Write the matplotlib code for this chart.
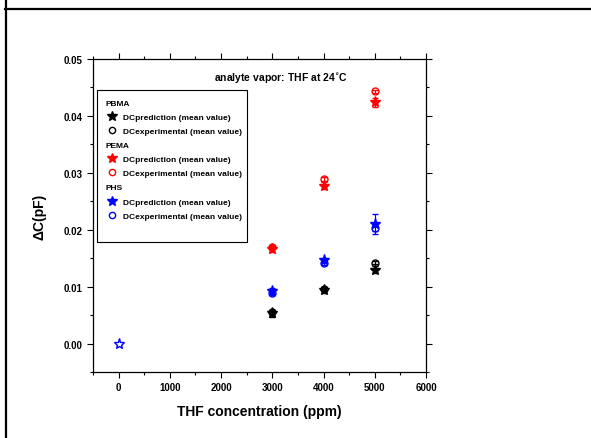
import matplotlib
matplotlib.use('Agg')
import matplotlib.pyplot as plt
from matplotlib.lines import Line2D
from matplotlib.patches import Rectangle
from matplotlib.ticker import MultipleLocator, FormatStrFormatter

plt.rcParams['font.family'] = ['Liberation Sans Narrow', 'Liberation Sans', 'DejaVu Sans']
plt.rcParams['font.weight'] = 'bold'

conc = [0, 3000, 4000, 5000]

# PBMA
pbma_pred = [0.0, 0.0053, 0.0094, 0.0130]
pbma_pred_err = [0.0, 0.0006, 0.0005, 0.0006]
pbma_exp = [0.0, 0.0056, 0.0095, 0.0142]
pbma_exp_err = [0.0, 0.0003, 0.0003, 0.0003]

# PEMA
pema_pred = [0.0, 0.0166, 0.0277, 0.0424]
pema_pred_err = [0.0, 0.0005, 0.0006, 0.0008]
pema_exp = [0.0, 0.0170, 0.0289, 0.0443]
pema_exp_err = [0.0, 0.0003, 0.0003, 0.0003]

# PHS
phs_pred = [0.0, 0.0092, 0.0146, 0.0210]
phs_pred_err = [0.0, 0.0006, 0.0004, 0.0017]
phs_exp = [0.0, 0.0089, 0.0141, 0.0203]
phs_exp_err = [0.0, 0.0003, 0.0003, 0.0005]

series = [
    ('PBMA', 'black', pbma_pred, pbma_pred_err, pbma_exp, pbma_exp_err),
    ('PEMA', 'red', pema_pred, pema_pred_err, pema_exp, pema_exp_err),
    ('PHS', 'blue', phs_pred, phs_pred_err, phs_exp, phs_exp_err),
]

fig = plt.figure(figsize=(5.91, 4.39), dpi=100)
ax = fig.add_axes([93/591, 1-373/439, (426-93)/591, (373-60)/439])

for name, col, pred, perr, exp, eerr in series:
    if name == 'PHS':
        # zero point drawn as a hollow star
        ax.errorbar(conc[:1], exp[:1], yerr=eerr[:1], fmt='*', ms=8, mfc='white',
                    mec=col, ecolor=col, capsize=2, elinewidth=0.8, zorder=5)
    ax.errorbar(conc[1:], exp[1:], yerr=eerr[1:], fmt='o', ms=5, mfc='none',
                mec=col, mew=1.0, ecolor=col, capsize=2, elinewidth=0.8, zorder=3)
    ax.errorbar(conc[1:], pred[1:], yerr=perr[1:], fmt='*', ms=8, color=col,
                ecolor=col, capsize=2, elinewidth=0.8, zorder=4)

ax.set_xlim(-500, 6000)
ax.set_ylim(-0.005, 0.05)
ax.xaxis.set_major_locator(MultipleLocator(1000))
ax.xaxis.set_minor_locator(MultipleLocator(500))
ax.yaxis.set_major_locator(MultipleLocator(0.01))
ax.yaxis.set_minor_locator(MultipleLocator(0.005))
ax.yaxis.set_major_formatter(FormatStrFormatter('%.2f'))
ax.tick_params(which='both', labelsize=7, width=0.8)
ax.tick_params(which='major', length=4)
ax.tick_params(which='minor', length=2)
ax.tick_params(axis='both', which='both', top=True, right=True)
for sp in ax.spines.values():
    sp.set_linewidth(0.9)
for lab in ax.get_xticklabels() + ax.get_yticklabels():
    lab.set_fontweight('bold')

ax.set_xlabel('THF concentration (ppm)', fontsize=10, fontweight='bold', labelpad=8)
ax.set_ylabel('ΔC(pF)', fontsize=10, fontweight='bold', labelpad=12)
ax.text(0.565, 0.942, 'analyte vapor: THF at 24$^{\\mathbf{\\circ}}$C', transform=ax.transAxes,
        ha='center', va='center', fontsize=7.5, fontweight='bold')

handles = []
labels = []
for name, col, pred, perr, exp, eerr in series:
    handles.append(Line2D([], [], linestyle='none', marker=None))
    labels.append(name)
    handles.append(Line2D([], [], linestyle='none', marker='*', ms=7, color=col))
    labels.append('DCprediction (mean value)')
    handles.append(Line2D([], [], linestyle='none', marker='o', ms=4.5, mfc='none', mec=col))
    labels.append('DCexperimental (mean value)')

leg = ax.legend(handles, labels, loc='upper left', bbox_to_anchor=(0.03, 0.885),
                frameon=False, handlelength=1.2, handletextpad=0.7, labelspacing=0.75,
                borderpad=0.0, prop={'weight': 'bold', 'size': 6})
for i, t in enumerate(leg.get_texts()):
    if i % 3 == 0:
        t.set_position((-17, 0))

ax.add_patch(Rectangle((0.012, 0.415), 0.4505, 0.486, transform=ax.transAxes,
                       fill=False, edgecolor='black', lw=0.8, zorder=6))

fig.add_artist(Line2D([5/591, 1.0], [1-10/439, 1-10/439], color='black', lw=1.6,
                      transform=fig.transFigure))
fig.add_artist(Line2D([6/591, 6/591], [0.0, 1.0], color='black', lw=1.6,
                      transform=fig.transFigure))

fig.savefig('out.png', dpi=100)
